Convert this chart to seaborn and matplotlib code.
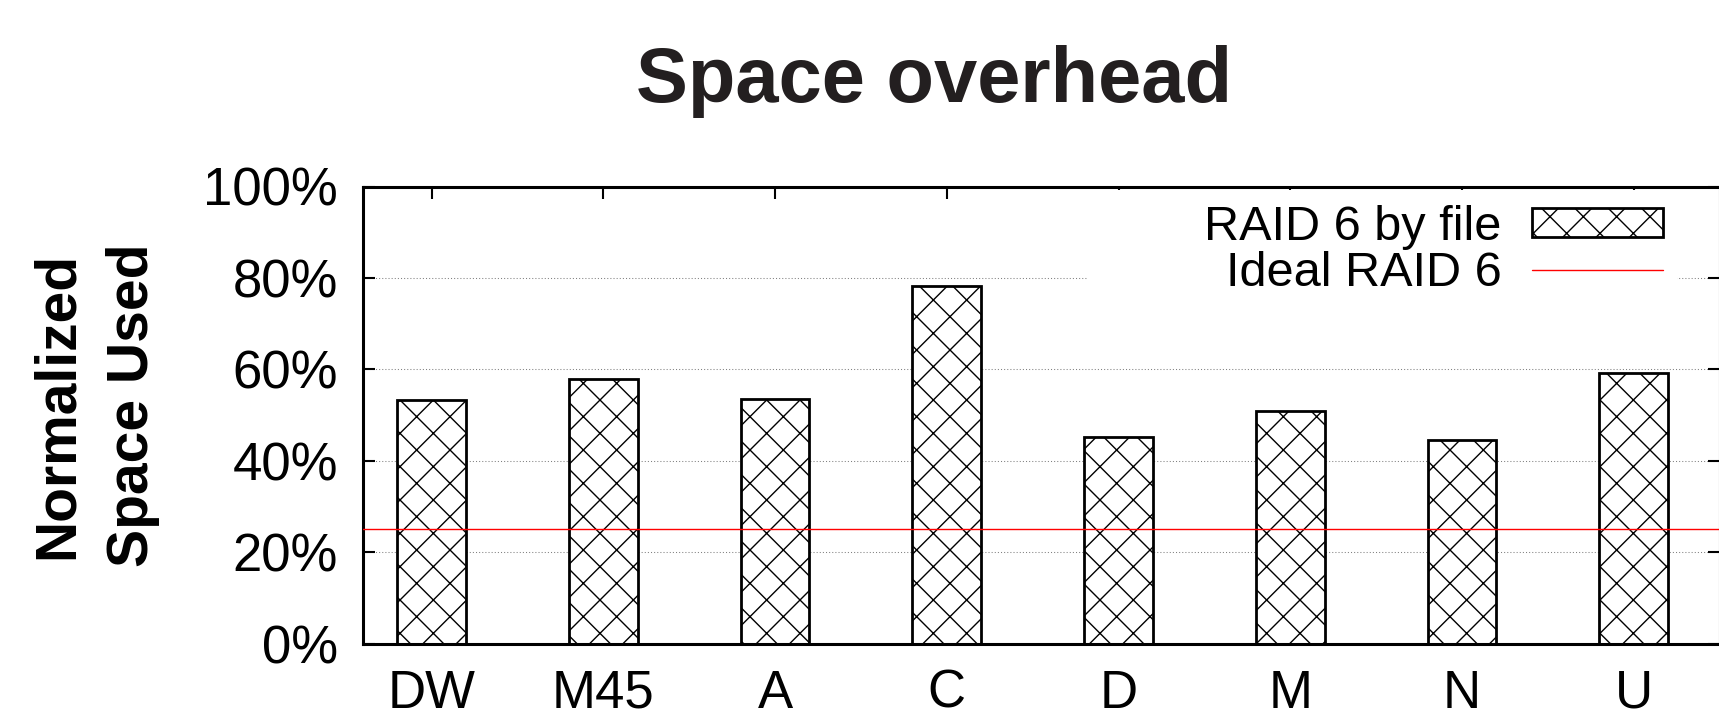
import matplotlib
matplotlib.use("Agg")
import matplotlib.pyplot as plt
from matplotlib.ticker import PercentFormatter
from matplotlib.path import Path
import seaborn as sns
import pandas as pd

# ---- data ----
categories = ["DW", "M45", "A", "C", "D", "M", "N", "U"]
space_used = [53.3, 57.8, 53.4, 78.3, 45.2, 50.8, 44.5, 59.1]   # RAID 6 by file (%)
ideal_raid6 = 25.0                                               # Ideal RAID 6 (%)
y_ticks = [0, 20, 40, 60, 80, 100]

sns.set_style("ticks")
plt.rcParams["font.family"] = ["Liberation Sans", "DejaVu Sans"]
plt.rcParams["hatch.linewidth"] = 1.0
plt.rcParams["hatch.color"] = "black"
plt.rcParams["text.color"] = "black"
plt.rcParams["axes.labelcolor"] = "black"
plt.rcParams["xtick.color"] = "black"
plt.rcParams["ytick.color"] = "black"

W, H, DPI = 1719, 710, 100
fig = plt.figure(figsize=(W / DPI, H / DPI), dpi=DPI)
ax_left, ax_right, ax_top, ax_bottom = 363, 1719.5, 186.5, 643.5
ax = fig.add_axes([ax_left / W, 1 - ax_bottom / H,
                   (ax_right - ax_left) / W, (ax_bottom - ax_top) / H])

df = pd.DataFrame({"cat": categories, "val": space_used})
sns.barplot(data=df, x="cat", y="val", color="white", saturation=1,
            edgecolor="black", linewidth=2.0, hatch="x", width=0.4,
            label="RAID 6 by file", ax=ax, zorder=2)
ax.axhline(ideal_raid6, color="#ff0000", linewidth=1.0, label="Ideal RAID 6", zorder=3)

ax.set_xlim(-0.4, 7.5)
ax.set_ylim(0, 100)
ax.set_yticks(y_ticks)
ax.yaxis.set_major_formatter(PercentFormatter(100, decimals=0))
ax.set_xlabel("")
ax.set_ylabel("Normalized\nSpace Used", fontsize=41, fontweight="bold",
              linespacing=1.5, color="black")
ax.yaxis.set_label_coords(-0.150, 0.522)

ax.yaxis.grid(True, color="#808080", linestyle=(0, (1, 2)), linewidth=0.75)
ax.set_axisbelow(True)

for s in ax.spines.values():
    s.set_linewidth(2.2)
    s.set_color("black")
    s.set_visible(True)
ax.tick_params(axis="both", direction="in", top=True, right=True,
               length=8.6, width=1.5, labelsize=38, pad=18,
               colors="black", labelcolor="black")

handles, labels = ax.get_legend_handles_labels()
order = [labels.index("RAID 6 by file"), labels.index("Ideal RAID 6")]
leg = ax.legend([handles[i] for i in order], [labels[i] for i in order],
                loc="upper right", bbox_to_anchor=(0.969, 0.9923), borderaxespad=0,
                markerfirst=False, fontsize=35, handlelength=2.7, handleheight=0.52,
                handletextpad=0.62, labelspacing=0.02, borderpad=0.3,
                frameon=True, fancybox=False, framealpha=1, labelcolor="black")
leg.get_frame().set_facecolor("white")
leg.get_frame().set_edgecolor("none")


def key_box(x0, y0, width, height, mutation_size):
    # gnuplot-style key box: extra blank room on the left of the labels
    ext = 2.08 * mutation_size
    x0 -= ext
    width += ext
    return Path([(x0, y0), (x0 + width, y0), (x0 + width, y0 + height),
                 (x0, y0 + height), (x0, y0)], closed=True)


leg.get_frame().set_boxstyle(key_box)

fig.text(934 / W, 1 - 101.7 / H, "Space overhead", ha="center", va="baseline",
         fontsize=56, fontweight="bold", color="#231f20")

fig.savefig("out.png", dpi=DPI)
